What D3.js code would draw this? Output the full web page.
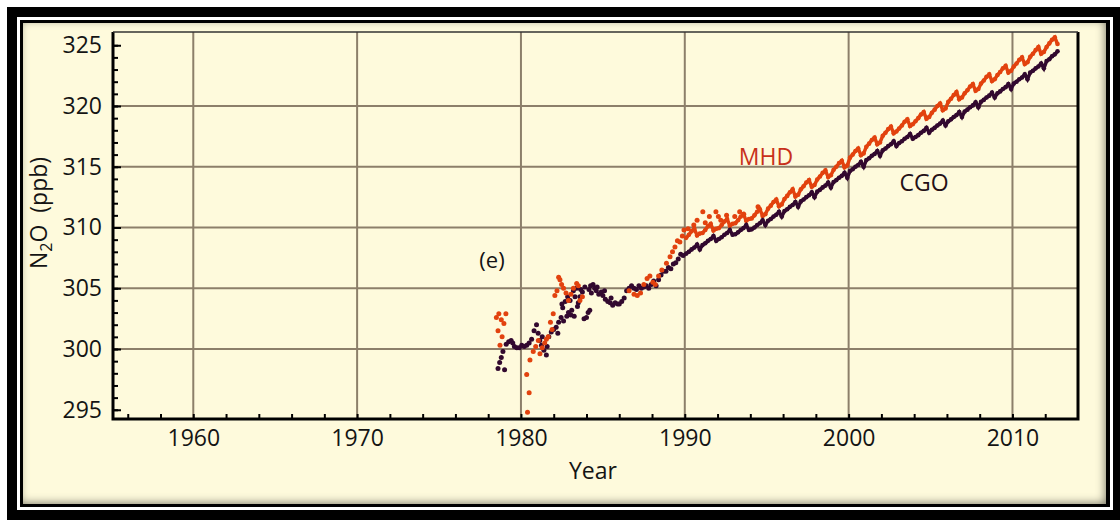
<!DOCTYPE html>
<html>
<head>
<meta charset="utf-8">
<script src="https://cdn.jsdelivr.net/npm/d3@7"></script>
<style>
  body { margin: 0; background: #fff; }
  svg { display: block; font-family: "Open Sans", "DejaVu Sans", sans-serif; }
</style>
</head>
<body>
<svg width="1120" height="520"></svg>
<script>
// tick values
const xTicks = [1960, 1970, 1980, 1990, 2000, 2010];
const yTicks = [295, 300, 305, 310, 315, 320, 325];
const yGrid = [300, 305, 310, 315, 320];

// early scatter, [year, ppb]
const mhdEarly = [
  [1978.5, 302.6], [1978.6, 301.5], [1978.72, 300.3], [1978.8, 302.4], [1978.96, 302.1], [1979.08, 302.9],
  [1978.65, 302.9], [1978.85, 301.0],
  [1980.35, 297.9], [1980.4, 294.8], [1980.5, 296.4], [1980.55, 299.1], [1980.75, 299.8], [1980.9, 300.2],
  [1981.06, 300.7], [1981.16, 299.6], [1981.3, 300.1], [1981.45, 300.5], [1981.66, 301.0], [1981.8, 302.2],
  [1981.97, 302.9], [1982.07, 304.4], [1982.2, 304.8], [1982.38, 305.7], [1982.48, 305.3], [1982.6, 305.0],
  [1982.75, 304.6], [1982.9, 304.0], [1983.05, 304.5], [1983.2, 305.0], [1983.4, 305.4], [1983.5, 305.2],
  [1983.6, 304.0], [1983.75, 304.3], [1982.3, 305.9], [1981.9, 301.6], [1981.55, 300.8],
  [1986.6, 304.8], [1986.9, 304.5], [1987.1, 304.4], [1987.3, 304.6], [1987.5, 305.3], [1987.7, 305.8],
  [1987.87, 306.0], [1988.05, 305.5], [1988.2, 305.3], [1988.4, 306.0], [1988.6, 306.5], [1988.88, 307.05],
  [1989.1, 307.6], [1989.25, 308.0], [1989.4, 308.4], [1989.55, 308.9], [1989.7, 308.8], [1989.85, 309.3]
];

const cgoEarly = [
  [1978.6, 298.4], [1978.7, 298.9], [1978.8, 299.3], [1978.9, 299.8], [1979.0, 298.3], [1979.1, 300.4],
  [1979.25, 300.6], [1979.4, 300.7], [1979.5, 300.5], [1979.6, 300.2], [1979.75, 300.1], [1979.9, 300.1],
  [1980.05, 300.3], [1980.2, 300.2], [1980.35, 300.3], [1980.5, 300.5], [1980.65, 300.8], [1980.8, 301.5],
  [1980.95, 302.0], [1981.05, 301.3], [1981.15, 300.7], [1981.25, 300.3], [1981.4, 299.9], [1981.55, 299.5],
  [1981.7, 301.0], [1981.85, 301.4], [1982.0, 301.6], [1982.15, 301.8], [1982.3, 302.2], [1982.45, 302.6],
  [1982.55, 303.4], [1982.6, 302.3], [1982.7, 303.9], [1982.8, 302.7], [1982.85, 304.3], [1982.9, 303.0],
  [1983.0, 304.0], [1983.05, 302.8], [1983.1, 303.2], [1983.2, 304.8], [1983.25, 302.7], [1983.4, 305.0],
  [1983.45, 303.5], [1983.5, 303.8], [1983.6, 304.3], [1983.65, 304.9], [1983.75, 304.7], [1983.85, 302.5],
  [1984.0, 302.6], [1984.1, 303.0], [1984.15, 304.9], [1984.2, 303.2], [1984.3, 304.6], [1984.4, 305.3],
  [1984.5, 305.0], [1984.6, 304.8], [1984.75, 304.5], [1984.9, 304.7], [1985.0, 304.4], [1985.15, 304.1],
  [1985.3, 303.9], [1985.45, 303.8], [1985.6, 303.6], [1985.75, 303.8], [1985.9, 303.7], [1986.0, 303.7],
  [1986.15, 303.9], [1986.3, 304.2], [1986.45, 304.8], [1986.6, 305.0], [1986.75, 305.2], [1986.9, 305.0],
  [1987.05, 304.9], [1987.2, 305.2], [1987.35, 305.0], [1987.5, 305.1], [1987.65, 305.2], [1987.8, 305.0],
  [1987.95, 305.3], [1988.1, 305.6], [1988.25, 305.2], [1988.4, 305.7], [1988.55, 306.1], [1988.7, 306.4],
  [1988.85, 306.4], [1989.0, 306.7], [1989.15, 306.6], [1989.3, 307.0], [1989.45, 307.1], [1989.6, 307.4],
  [1989.75, 307.8], [1989.9, 307.7],
  [1981.3, 301.0], [1981.6, 300.2], [1982.25, 301.3], [1982.5, 303.7], [1983.3, 304.3], [1983.9, 305.1],
  [1984.25, 305.2], [1984.65, 305.1], [1985.1, 304.8], [1985.5, 304.2]
];

// scattered high MHD values early 1990s
const mhdExtra = [
  [1989.95, 309.8], [1990.2, 309.9], [1990.55, 310.2], [1990.75, 310.6], [1991.1, 311.3], [1991.25, 310.4],
  [1991.5, 310.9], [1991.9, 311.3], [1992.05, 310.9], [1992.2, 310.6], [1992.55, 311.0], [1993.05, 310.9],
  [1993.35, 311.3], [1993.6, 311.1], [1994.47, 311.7]
];

// bimonthly series from 1990 on
const seriesStart = 1990;
const perYear = 6;

const mhdSeries = [
  309.15, 309.4, 309.7, 309.9, 309.35, 309.5,
  309.55, 309.8, 310.1, 310.3, 309.75, 309.9,
  309.95, 310.2, 310.5, 310.7, 310.15, 310.3,
  310.35, 310.6, 310.9, 311.1, 310.55, 310.7,
  310.75, 311.0, 311.3, 311.5, 310.95, 311.1,
  311.55, 311.8, 312.1, 312.3, 311.75, 311.9,
  312.35, 312.6, 312.9, 313.15, 312.55, 312.7,
  313.15, 313.4, 313.7, 313.9, 313.35, 313.5,
  313.95, 314.2, 314.5, 314.7, 314.15, 314.3,
  314.75, 315.0, 315.3, 315.5, 314.95, 315.1,
  315.75, 316.0, 316.3, 316.5, 315.95, 316.1,
  316.65, 316.9, 317.2, 317.4, 316.85, 317.0,
  317.55, 317.8, 318.1, 318.3, 317.75, 317.9,
  318.15, 318.4, 318.7, 318.9, 318.35, 318.5,
  318.75, 319.0, 319.3, 319.5, 318.95, 319.1,
  319.45, 319.7, 320.0, 320.2, 319.65, 319.8,
  320.35, 320.6, 320.9, 321.15, 320.55, 320.7,
  321.05, 321.3, 321.6, 321.8, 321.25, 321.4,
  321.85, 322.1, 322.4, 322.6, 322.05, 322.2,
  322.55, 322.8, 323.1, 323.3, 322.75, 322.9,
  323.25, 323.5, 323.8, 324.0, 323.45, 323.6,
  324.05, 324.3, 324.6, 324.85, 324.3, 324.45,
  324.85, 325.15, 325.45, 325.65, 325.1
];

const cgoSeries = [
  307.85, 308.0, 308.2, 308.35, 308.6, 308.2,
  308.55, 308.7, 308.9, 309.05, 309.3, 308.9,
  309.05, 309.2, 309.4, 309.55, 309.8, 309.4,
  309.45, 309.6, 309.8, 309.95, 310.2, 309.8,
  309.85, 310.0, 310.2, 310.35, 310.6, 310.2,
  310.55, 310.7, 310.9, 311.05, 311.3, 310.9,
  311.35, 311.5, 311.7, 311.85, 312.1, 311.7,
  312.15, 312.3, 312.5, 312.65, 312.9, 312.5,
  312.95, 313.1, 313.3, 313.45, 313.7, 313.3,
  313.75, 313.9, 314.1, 314.25, 314.5, 314.1,
  314.65, 314.8, 315.0, 315.15, 315.4, 315.0,
  315.55, 315.7, 315.9, 316.05, 316.3, 315.9,
  316.35, 316.5, 316.7, 316.85, 317.1, 316.7,
  316.95, 317.1, 317.3, 317.45, 317.7, 317.3,
  317.45, 317.6, 317.8, 317.95, 318.2, 317.8,
  318.05, 318.2, 318.4, 318.55, 318.8, 318.4,
  318.75, 318.9, 319.1, 319.25, 319.5, 319.1,
  319.55, 319.7, 319.9, 320.05, 320.3, 319.9,
  320.35, 320.5, 320.7, 320.85, 321.1, 320.7,
  321.05, 321.2, 321.4, 321.55, 321.8, 321.4,
  321.85, 322.0, 322.2, 322.35, 322.6, 322.2,
  322.75, 322.9, 323.1, 323.25, 323.5, 323.1,
  323.7, 323.85, 324.1, 324.25, 324.5
];

const mhdColor = "#e2420e";
const cgoColor = "#32092f";

const svg = d3.select("svg");

const x = d3.scaleLinear().domain([1955.1, 2014]).range([113, 1078]);
const y = d3.scaleLinear().domain([294.24, 326.09]).range([419, 32]);

// frame
svg.append("rect").attr("x", 7).attr("y", 7).attr("width", 1120).attr("height", 520).attr("fill", "#000");
svg.append("rect").attr("x", 18.5).attr("y", 18.5).attr("width", 1093).attr("height", 490)
  .attr("fill", "none").attr("stroke", "#fff").attr("stroke-width", 3);

const defs = svg.append("defs");
const f = defs.append("filter").attr("id", "inset")
  .attr("x", "-3%").attr("y", "-5%").attr("width", "106%").attr("height", "110%");
f.append("feFlood").attr("flood-color", "#000").attr("flood-opacity", 0.8).attr("result", "flood");
f.append("feComposite").attr("in", "flood").attr("in2", "SourceAlpha").attr("operator", "out").attr("result", "outside");
f.append("feGaussianBlur").attr("in", "outside").attr("stdDeviation", 4).attr("result", "blur");
f.append("feOffset").attr("in", "blur").attr("dx", -2).attr("dy", -2).attr("result", "off");
f.append("feComposite").attr("in", "off").attr("in2", "SourceAlpha").attr("operator", "in").attr("result", "shadow");
const merge = f.append("feMerge");
merge.append("feMergeNode").attr("in", "SourceGraphic");
merge.append("feMergeNode").attr("in", "shadow");

svg.append("rect").attr("x", 23).attr("y", 23).attr("width", 1083).attr("height", 481)
  .attr("fill", "#fefadc").attr("filter", "url(#inset)");

// grid
svg.append("g").selectAll("line").data(xTicks).enter().append("line")
  .attr("x1", d => x(d)).attr("x2", d => x(d)).attr("y1", 32).attr("y2", 419)
  .attr("stroke", "#8c7f6a").attr("stroke-width", 2);
svg.append("g").selectAll("line").data(yGrid).enter().append("line")
  .attr("x1", 113).attr("x2", 1078).attr("y1", d => y(d)).attr("y2", d => y(d))
  .attr("stroke", "#8c7f6a").attr("stroke-width", 2);

// axes
const xMinor = d3.range(1956, 2014, 2);
const yMinor = d3.range(295, 326, 1);

svg.append("g").attr("transform", "translate(0,419)")
  .call(d3.axisBottom(x).tickValues(xMinor).tickSize(-5).tickFormat(""))
  .call(g => g.select(".domain").remove())
  .selectAll("line").attr("stroke", "#000").attr("stroke-width", 2);

svg.append("g").attr("transform", "translate(113,0)")
  .call(d3.axisLeft(y).tickValues(yMinor).tickSize(-5).tickFormat(""))
  .call(g => g.select(".domain").remove())
  .selectAll("line").attr("stroke", "#000").attr("stroke-width", 2);

svg.append("g").attr("transform", "translate(113,0)")
  .call(d3.axisLeft(y).tickValues(yTicks).tickSize(-8).tickPadding(11).tickFormat(d3.format("d")))
  .call(g => g.select(".domain").remove())
  .call(g => g.selectAll("line").attr("stroke", "#000").attr("stroke-width", 2))
  .call(g => g.selectAll("text").attr("font-size", 23).attr("fill", "#141414")
    .attr("font-family", "'Open Sans', sans-serif"));

svg.append("g").attr("transform", "translate(0,419)")
  .call(d3.axisBottom(x).tickValues(xTicks).tickSize(0).tickPadding(11).tickFormat(d3.format("d")))
  .call(g => g.select(".domain").remove())
  .call(g => g.selectAll("text").attr("font-size", 23).attr("fill", "#141414")
    .attr("font-family", "'Open Sans', sans-serif"));

svg.append("path")
  .attr("d", "M113,32 L113,419 L1078,419 L1078,32")
  .attr("fill", "none").attr("stroke", "#000").attr("stroke-width", 3);
svg.append("line").attr("x1", 113).attr("x2", 1078).attr("y1", 32).attr("y2", 32)
  .attr("stroke", "#333").attr("stroke-width", 1.5);

// data
const line = d3.line().x(d => x(d[0])).y(d => y(d[1]));
const asPoints = arr => arr.map((v, i) => [seriesStart + (i + 0.5) / perYear, v]);

function drawDots(data, color, r) {
  svg.append("g").selectAll("circle").data(data).enter().append("circle")
    .attr("cx", d => x(d[0])).attr("cy", d => y(d[1])).attr("r", r)
    .attr("fill", color);
}

const mhdPts = asPoints(mhdSeries);
const cgoPts = asPoints(cgoSeries);

drawDots(cgoEarly, cgoColor, 2.5);
drawDots(mhdEarly, mhdColor, 2.5);
drawDots(mhdExtra, mhdColor, 2.5);

svg.append("path").datum(mhdPts).attr("d", line)
  .attr("fill", "none").attr("stroke", mhdColor).attr("stroke-width", 3.5);
drawDots(mhdPts, mhdColor, 2.3);
svg.append("path").datum(cgoPts).attr("d", line)
  .attr("fill", "none").attr("stroke", cgoColor).attr("stroke-width", 3.5);
drawDots(cgoPts, cgoColor, 2.3);

// labels
svg.append("text").attr("x", 593).attr("y", 479).attr("text-anchor", "middle")
  .attr("font-size", 23).attr("fill", "#141414").text("Year");

const yt = svg.append("text").attr("transform", "translate(47,213) rotate(-90)")
  .attr("text-anchor", "middle").attr("font-size", 23).attr("fill", "#141414");
yt.append("tspan").text("N");
yt.append("tspan").attr("dy", 5).attr("font-size", 16).text("2");
yt.append("tspan").attr("dy", -5).text("O\u00a0 (ppb)");

svg.append("text").attr("x", 492).attr("y", 268).attr("text-anchor", "middle")
  .attr("font-size", 22).attr("fill", "#141414").text("(e)");
svg.append("text").attr("x", 766).attr("y", 165).attr("text-anchor", "middle")
  .attr("font-size", 23).attr("fill", "#c8301a").text("MHD");
svg.append("text").attr("x", 924).attr("y", 191).attr("text-anchor", "middle")
  .attr("font-size", 23).attr("fill", "#241016").text("CGO");
</script>
</body>
</html>
